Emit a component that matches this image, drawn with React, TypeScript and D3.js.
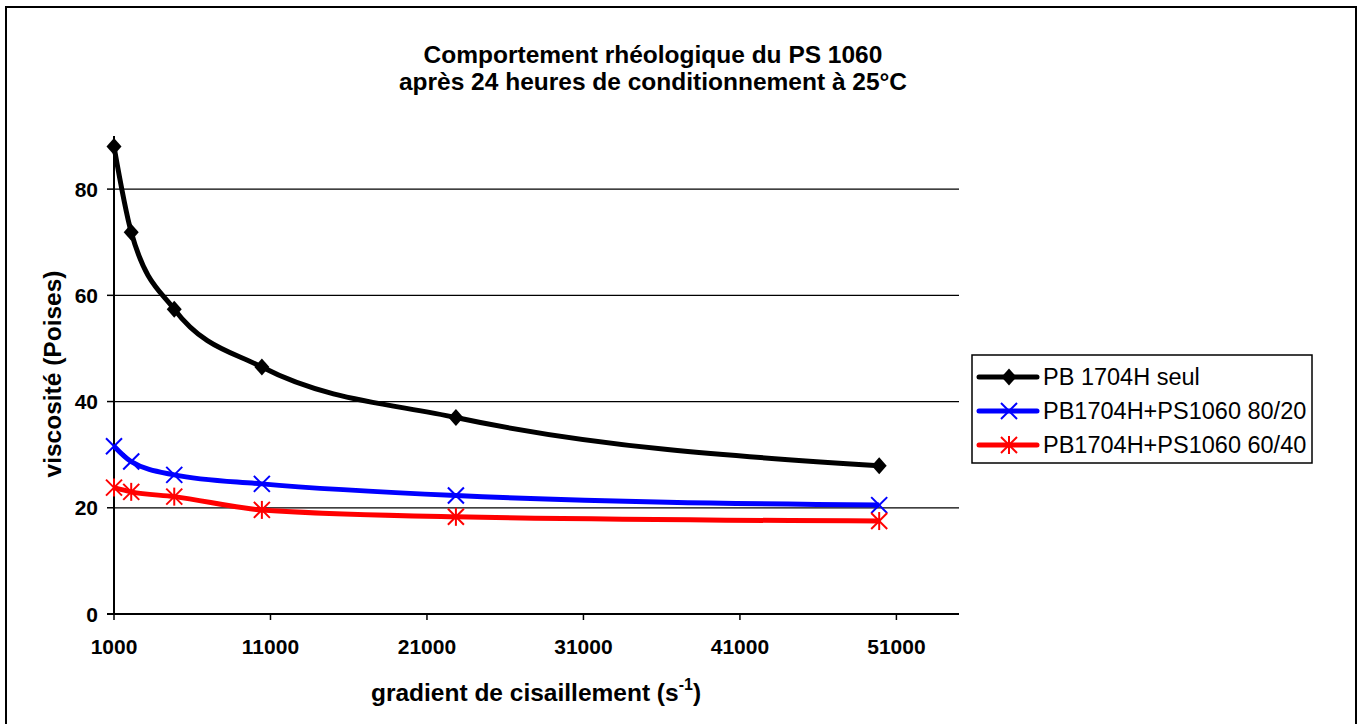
import React from 'react';
import * as d3 from 'd3';

// shear rate (s-1) and viscosity (Poises)
const shearRates = [1000, 2100, 4850, 10450, 22850, 49900];
const pbSeul = [88.0, 71.9, 57.4, 46.5, 37.0, 27.9];
const pb8020 = [31.6, 28.7, 26.2, 24.5, 22.3, 20.5];
const pb6040 = [23.8, 23.0, 22.1, 19.6, 18.3, 17.5];

const xTicks = [1000, 11000, 21000, 31000, 41000, 51000];
const yTicks = [0, 20, 40, 60, 80];

const seriesNames = ['PB 1704H seul', 'PB1704H+PS1060 80/20', 'PB1704H+PS1060 60/40'];
const seriesColors = ['#000000', '#0000FF', '#FF0000'];
const seriesMarkers = ['diamond', 'x', 'star'];

const FONT = '"Liberation Sans", Arial, sans-serif';

function Marker({ kind, x, y, color }: { kind: string; x: number; y: number; color: string }) {
  if (kind === 'diamond') {
    return <path d={`M${x},${y - 8.5}L${x + 7.5},${y}L${x},${y + 8.5}L${x - 7.5},${y}Z`} fill={color} />;
  }
  const r = 8;
  return (
    <g stroke={color} strokeWidth={2}>
      <line x1={x - r} y1={y - r} x2={x + r} y2={y + r} />
      <line x1={x - r} y1={y + r} x2={x + r} y2={y - r} />
      {kind === 'star' && <line x1={x} y1={y - r - 1} x2={x} y2={y + r + 1} />}
    </g>
  );
}

export default function App() {
  const width = 1364, height = 724;
  const x = d3.scaleLinear().domain([1000, 55000]).range([114, 959]);
  const y = d3.scaleLinear().domain([0, 90]).range([614, 136]);

  const series = [pbSeul, pb8020, pb6040];
  const line = d3.line<[number, number]>()
    .x(d => x(d[0]))
    .y(d => y(d[1]))
    .curve(d3.curveMonotoneX);

  const legendRows = [377, 411, 445];

  return (
    <svg width={width} height={height} style={{ position: 'absolute', left: 0, top: 0, background: '#fff' }}
      fontFamily={FONT}>
      <rect x={6} y={7} width={1350} height={740} fill="#fff" stroke="#000" strokeWidth={2} />

      <text x={653} y={63} textAnchor="middle" fontSize={24.5} fontWeight="bold">Comportement rhéologique du PS 1060</text>
      <text x={653} y={90} textAnchor="middle" fontSize={24.5} fontWeight="bold">après 24 heures de conditionnement à 25°C</text>

      {/* gridlines */}
      {yTicks.filter(t => t > 0).map(t => (
        <line key={t} x1={x(1000)} x2={x(55000)} y1={y(t)} y2={y(t)} stroke="#000" strokeWidth={1.2} />
      ))}

      {/* axes */}
      <line x1={x(1000)} x2={x(1000)} y1={y(90)} y2={y(0)} stroke="#000" strokeWidth={2} />
      <line x1={x(1000) - 7} x2={x(55000)} y1={y(0)} y2={y(0)} stroke="#000" strokeWidth={2} />
      {yTicks.map(t => (
        <g key={t}>
          <line x1={x(1000) - 7} x2={x(1000)} y1={y(t)} y2={y(t)} stroke="#000" strokeWidth={1.5} />
          <text x={98} y={y(t)} dy="0.36em" textAnchor="end" fontSize={21} fontWeight="bold">{t}</text>
        </g>
      ))}
      {xTicks.map(t => (
        <g key={t}>
          <line x1={x(t)} x2={x(t)} y1={y(0)} y2={y(0) + 6} stroke="#000" strokeWidth={1.5} />
          <text x={x(t)} y={654} textAnchor="middle" fontSize={21} fontWeight="bold">{t}</text>
        </g>
      ))}

      <text x={536} y={701} textAnchor="middle" fontSize={24.5} fontWeight="bold">
        gradient de cisaillement (s<tspan dy={-11} fontSize={16}>-1</tspan><tspan dy={11}>)</tspan>
      </text>
      <text transform="translate(61,374) rotate(-90)" textAnchor="middle" fontSize={24.5} fontWeight="bold">viscosité (Poises)</text>

      {/* series */}
      {series.map((vals, i) => {
        const pts = shearRates.map((s, j) => [s, vals[j]] as [number, number]);
        return (
          <g key={i}>
            <path d={line(pts) || ''} fill="none" stroke={seriesColors[i]} strokeWidth={5} strokeLinejoin="round" />
            {pts.map((p, j) => (
              <Marker key={j} kind={seriesMarkers[i]} x={x(p[0])} y={y(p[1])} color={seriesColors[i]} />
            ))}
          </g>
        );
      })}

      {/* legend */}
      <rect x={972} y={355} width={340} height={108} fill="#fff" stroke="#000" strokeWidth={1.5} />
      {seriesNames.map((name, i) => (
        <g key={name}>
          <line x1={979} x2={1037} y1={legendRows[i]} y2={legendRows[i]} stroke={seriesColors[i]} strokeWidth={5} strokeLinecap="round" />
          <Marker kind={seriesMarkers[i]} x={1009} y={legendRows[i]} color={seriesColors[i]} />
          <text x={1043} y={legendRows[i]} dy="0.36em" fontSize={23.5}>{name}</text>
        </g>
      ))}
    </svg>
  );
}
